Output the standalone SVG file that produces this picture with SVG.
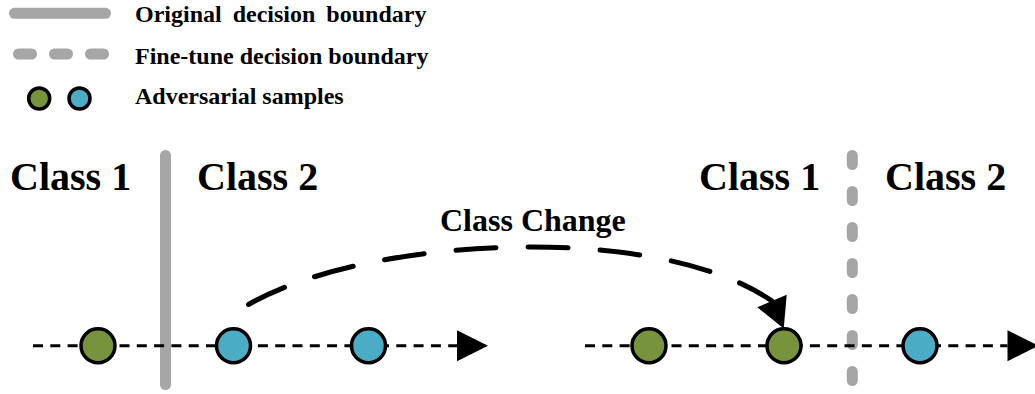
<svg xmlns="http://www.w3.org/2000/svg" width="1035" height="394" viewBox="0 0 1035 394">
  <style>
    .lbl { font-family: "Liberation Serif", "Times New Roman", serif; font-weight: bold; fill: #000; }
    .leg { font-size: 24px; }
    .cls { font-size: 40px; }
    .chg { font-size: 32px; }
    .green { fill: #77933C; stroke: #000; stroke-width: 3.5; }
    .blue { fill: #4BACC6; stroke: #000; stroke-width: 3.5; }
    .orig { stroke: #A6A6A6; stroke-width: 11; stroke-linecap: round; fill: none; }
    .fine { stroke: #A6A6A6; stroke-width: 11; stroke-linecap: round; fill: none; }
    .axis { stroke: #000; stroke-width: 3; stroke-dasharray: 10 7.3; fill: none; }
    .change { stroke: #000; stroke-width: 5; stroke-linecap: round; stroke-dasharray: 40 32; fill: none; }
  </style>
  <defs>
    <marker id="axisHead" markerUnits="userSpaceOnUse" markerWidth="32" markerHeight="32" refX="0" refY="15.5" orient="auto" overflow="visible">
      <path d="M0,0 L31,15.5 L0,31 Z" fill="#000"/>
    </marker>
    <marker id="changeHead" markerUnits="userSpaceOnUse" markerWidth="31" markerHeight="33" refX="0" refY="16" orient="67" overflow="visible">
      <path d="M0,0 L30,16 L0,32 Z" fill="#000"/>
    </marker>
  </defs>

  <g id="legend">
    <line class="orig" x1="14.5" y1="13.3" x2="105.5" y2="13.3"/>
    <line class="fine" x1="18.5" y1="54" x2="104" y2="54" stroke-dasharray="13 23"/>
    <circle class="green" cx="39.2" cy="98.5" r="10.5"/>
    <circle class="blue" cx="79.5" cy="98.5" r="10.5"/>
    <text class="lbl leg" x="135" y="22" word-spacing="5">Original decision boundary</text>
    <text class="lbl leg" x="135" y="64">Fine-tune decision boundary</text>
    <text class="lbl leg" x="135" y="104">Adversarial samples</text>
  </g>

  <g id="boundaries">
    <line id="original-boundary" class="orig" x1="165.5" y1="155.5" x2="165.5" y2="384.5"/>
    <line id="finetune-boundary" class="fine" x1="852.3" y1="155.5" x2="852.3" y2="381" stroke-dasharray="9 27"/>
  </g>

  <g id="labels">
    <text class="lbl cls" x="10" y="190">Class 1</text>
    <text class="lbl cls" x="197" y="190">Class 2</text>
    <text class="lbl cls" x="699" y="189.5">Class 1</text>
    <text class="lbl cls" x="885" y="189.5">Class 2</text>
    <text class="lbl chg" x="440" y="231">Class Change</text>
  </g>

  <g id="connectors">
    <line class="axis" x1="33" y1="345.7" x2="457" y2="345.7" marker-end="url(#axisHead)"/>
    <line class="axis" x1="585" y1="345.7" x2="1007.5" y2="345.7" marker-end="url(#axisHead)"/>
    <path class="change" d="M248.5,304.5 C367.2,236 657.2,221.2 772,301" marker-end="url(#changeHead)"/>
  </g>

  <g id="samples-left">
    <circle id="s1" class="green" cx="98" cy="345.7" r="17"/>
    <circle id="s2" class="blue" cx="233.5" cy="345.7" r="17"/>
    <circle id="s3" class="blue" cx="368.5" cy="345.7" r="17"/>
  </g>
  <g id="samples-right">
    <circle id="s4" class="green" cx="649" cy="345.7" r="17"/>
    <circle id="s5" class="green" cx="784" cy="345.7" r="17"/>
    <circle id="s6" class="blue" cx="920" cy="345.7" r="17"/>
  </g>
</svg>
